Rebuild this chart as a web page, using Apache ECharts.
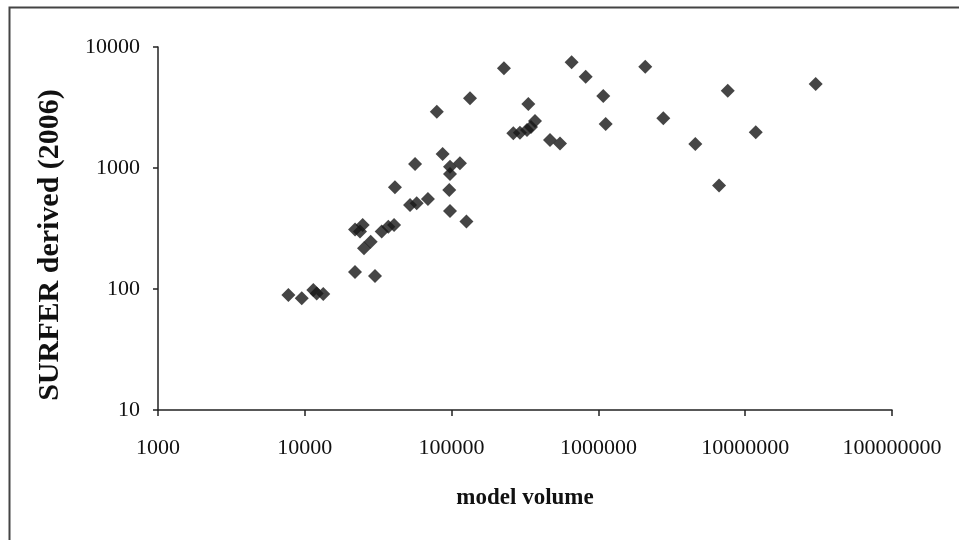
<!DOCTYPE html>
<html>
<head>
<meta charset="utf-8">
<script src="https://cdn.jsdelivr.net/npm/echarts@6/dist/echarts.min.js"></script>
<style>
html,body{margin:0;padding:0;background:#fff;}
#chart{width:959px;height:540px;}
</style>
</head>
<body>
<div id="chart"></div>
<script>
// model volume (x) and SURFER derived (2006) (y)
const modelVolume = [
  7730, 9530, 11430, 12050, 13360, 21980, 30070, 22000, 24800, 23770,
  25300, 28100, 33400, 37060, 40540, 41120, 52100, 57840, 69000, 56400,
  79300, 86900, 97500, 114000, 97500, 96400, 97500, 126200, 133400, 227300,
  333000, 263300, 292200, 326400, 347600, 370100, 468000, 547400, 657000, 819000,
  1079000, 1121000, 2086000, 2767000, 4571000, 6634000, 7603000, 11800000, 30200000
];
const surferDerived = [
  89, 84, 98, 92, 91, 138, 128, 311, 338, 298,
  217, 246, 298, 327, 338, 692, 494, 511, 555, 1079,
  2917, 1306, 1026, 1094, 891, 658, 441, 361, 3767, 6670,
  3380, 1936, 1958, 2061, 2183, 2444, 1703, 1593, 7480, 5690,
  3937, 2312, 6870, 2576, 1578, 716, 4355, 1973, 4943
];
const xTickLabels = ['1000', '10000', '100000', '1000000', '10000000', '100000000'];
const yTickLabels = ['10', '100', '1000', '10000'];
const xTitle = 'model volume';
const yTitle = 'SURFER derived (2006)';

const points = modelVolume.map((v, i) => [v, surferDerived[i]]);

const chart = echarts.init(document.getElementById('chart'), null, {renderer: 'canvas'});
const font = '"Liberation Serif", "Times New Roman", serif';
chart.setOption({
  backgroundColor: '#ffffff',
  animation: false,
  grid: {left: 158, right: 67, top: 47, bottom: 130, containLabel: false},
  xAxis: {
    type: 'log', logBase: 10, min: 1000, max: 100000000,
    axisLine: {show: true, onZero: false, lineStyle: {color: '#222', width: 1.5}},
    axisTick: {show: true, inside: false, length: 6, lineStyle: {color: '#222', width: 1.5}},
    minorTick: {show: false},
    splitLine: {show: false},
    axisLabel: {
      margin: 27, color: '#111', fontFamily: font, fontSize: 22,
      formatter: v => xTickLabels[Math.round(Math.log10(v)) - 3] || ''
    }
  },
  yAxis: {
    type: 'log', logBase: 10, min: 10, max: 10000,
    axisLine: {show: true, onZero: false, lineStyle: {color: '#222', width: 1.5}},
    axisTick: {show: true, inside: false, length: 5, lineStyle: {color: '#222', width: 1.5}},
    minorTick: {show: false},
    splitLine: {show: false},
    axisLabel: {
      margin: 18, color: '#111', fontFamily: font, fontSize: 22,
      formatter: v => yTickLabels[Math.round(Math.log10(v)) - 1] || ''
    }
  },
  series: [{
    type: 'scatter',
    data: points,
    symbol: 'diamond',
    symbolSize: 14,
    itemStyle: {color: '#161616'}
  }],
  graphic: [
    {type: 'rect', left: 7, top: 5, shape: {width: 1000, height: 600}, silent: true,
     style: {fill: 'none', stroke: '#444', lineWidth: 2}},
    {type: 'text', x: 525, y: 498, silent: true,
     style: {text: xTitle, fontFamily: font, fontWeight: 'bold', fontSize: 23, fill: '#111',
             align: 'center', verticalAlign: 'middle'}},
    {type: 'text', x: 50, y: 245, rotation: Math.PI / 2, silent: true,
     style: {text: yTitle, fontFamily: font, fontWeight: 'bold', fontSize: 30, fill: '#111',
             align: 'center', verticalAlign: 'middle'}}
  ]
});
</script>
</body>
</html>
